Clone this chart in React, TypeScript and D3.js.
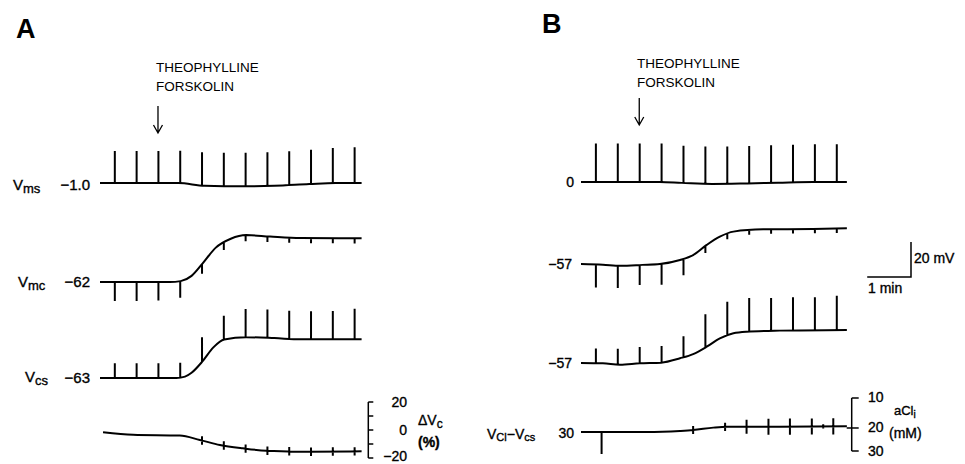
import React from 'react';
import * as d3 from 'd3';

type Pt = [number, number];

// test pulses, minutes from start of record (same protocol in A and B)
const pulseTimes = [0.34, 0.84, 1.34, 1.84, 2.34, 2.84, 3.34, 3.84, 4.34, 4.84, 5.34, 5.84];
const drugTime = 1.33;

// ---- panel A, mV ----
const aVmsBase: Pt[] = [[0, -1], [1.8, -1], [2.4, -2.6], [3.3, -2.9], [4.0, -2.6], [4.8, -1.6], [5.4, -1], [6, -1]];
const aVmsPulse = [18.3, 18.3, 18.3, 18.5, 19, 19, 19.2, 19.2, 19.3, 19.5, 20, 20.5];

const aVmcBase: Pt[] = [[0, -62], [1.6, -62], [1.85, -61.5], [2.1, -58.5], [2.35, -51.5], [2.65, -42.5], [3.0, -37.3], [3.35, -35.2], [3.9, -36], [4.6, -36.8], [6, -37]];
const aVmcPulse = [-10.8, -10.8, -10.6, -9.5, -5.5, -4, -3.4, -3.2, -3, -3, -3, -3];

const aVcsBase: Pt[] = [[0, -63], [1.75, -63], [1.95, -62.2], [2.1, -60], [2.35, -53.5], [2.6, -45.5], [2.85, -41], [3.35, -39.7], [4.0, -40.2], [4.6, -40.9], [6, -40.9]];
const aVcsPulse = [8.4, 8.4, 8.4, 8.4, 14, 13.8, 16.2, 16.2, 16, 16, 16.2, 17.5];

// ΔVc in %
const aDvcBase: Pt[] = [[0.07, -1.6], [0.76, -3.4], [1.83, -4], [2.29, -7.1], [2.75, -10.7], [3.28, -13.1], [3.82, -14.8], [4.82, -15.5], [6, -15.2]];
const aDvcMark = [0, 0, 0, 0, 3, 3, 3, 3, 3, 3, 3, 3];
const dvcTicks = [-20, -10, 0, 10, 20];
const dvcLabels = [20, 0, -20];

// ---- panel B, mV ----
const bVmsBase: Pt[] = [[0, 0], [1.8, 0], [2.3, -0.5], [3.0, -1.1], [3.8, -0.8], [4.5, -0.4], [5.3, 0], [6.07, 0]];
const bVmsPulse = [22, 22, 22, 22, 21.3, 21.3, 21.2, 21.4, 21.5, 21.5, 21.6, 21.6];

const bVmcBase: Pt[] = [[0, -57], [0.5, -57.4], [0.9, -58], [1.4, -57.5], [1.8, -57], [2.26, -54.7], [2.56, -51.9], [2.87, -46.1], [3.17, -41.4], [3.48, -38.5], [4.16, -37.2], [5.3, -37], [6.07, -36.6]];
const bVmcPulse = [-13.2, -12.8, -11.5, -12, -9.5, -4, -3, -2.5, -2.5, -2.5, -2.5, -2.5];

const bVcsBase: Pt[] = [[0, -57], [0.5, -57.2], [0.89, -58], [1.34, -57.2], [1.83, -56.8], [2.26, -54.3], [2.56, -51.9], [2.87, -47.7], [3.17, -42.9], [3.48, -40], [3.78, -39.1], [4.54, -38.5], [6.07, -38.1]];
const bVcsPulse = [8.4, 9, 9.3, 9.5, 12, 18.9, 19.3, 19.2, 18.8, 19, 18.8, 19.6];

const bVclBase: Pt[] = [[0, 30], [1.5, 30], [2.26, 30.6], [2.56, 31.1], [3.02, 32.5], [3.33, 33], [4.54, 33], [6.07, 33.3]];
const bVclSpikeTimes = [0.47];
const bVclSpikeAmp = [-12.6];
const bVclMarkTimes = [2.56, 3.29, 3.78, 4.28, 4.77, 5.27, 5.53, 5.76];
const bVclMarkSize = [2.3, 2.3, 4, 4.6, 4.6, 4.6, 1.2, 4.6];
const aclTicks = [10, 20, 30];

// scales
const xA = d3.scaleLinear().domain([0, 6]).range([100, 361.6]);
const xB = d3.scaleLinear().domain([0, 6]).range([581, 843.8]);
// 20 mV = 35 px
const mv = (ref: number, yRef: number) => d3.scaleLinear().domain([ref, ref + 20]).range([yRef, yRef - 35]);
const yDvc = d3.scaleLinear().domain([-20, 20]).range([458, 402]);
const yAcl = d3.scaleSqrt().domain([10, 30]).range([398, 451]);

const FONT = '"Liberation Sans", Arial, sans-serif';

type TraceProps = {
  x: d3.ScaleLinear<number, number>;
  y: d3.ScaleLinear<number, number>;
  base: Pt[];
  spikeT?: number[];
  spikeA?: number[];
  markT?: number[];
  markH?: number[];
};

function Trace({ x, y, base, spikeT = [], spikeA = [], markT = [], markH = [] }: TraceProps) {
  const line = d3.line<Pt>().x(d => x(d[0])).y(d => y(d[1])).curve(d3.curveMonotoneX);
  const at = d3.scaleLinear().domain(base.map(d => d[0])).range(base.map(d => d[1]));
  let extra = '';
  spikeT.forEach((t, i) => {
    if (!spikeA[i]) return;
    const v = at(t);
    extra += `M${x(t)},${y(v)}L${x(t)},${y(v + spikeA[i])}`;
  });
  markT.forEach((t, i) => {
    if (!markH[i]) return;
    const v = at(t);
    extra += `M${x(t)},${y(v + markH[i])}L${x(t)},${y(v - markH[i])}`;
  });
  return <path d={(line(base) || '') + extra} fill="none" stroke="#000" strokeWidth={2} strokeLinejoin="round" />;
}

function Arrow({ x, y0, y1 }: { x: number; y0: number; y1: number }) {
  return (
    <path d={`M${x},${y0}L${x},${y1}M${x - 4.5},${y1 - 8}L${x},${y1}L${x + 4.5},${y1 - 8}`} fill="none" stroke="#000" strokeWidth={1.3} />
  );
}

export default function App() {
  const aVms = mv(-1, 183), aVmc = mv(-62, 282), aVcs = mv(-63, 378);
  const bVms = mv(0, 182), bVmc = mv(-57, 264), bVcs = mv(-57, 363), bVcl = mv(30, 432);
  const dvcX = 368.3;
  const aclX = 851.7;
  // labels are printed a touch heavier than the regular face
  const lab = { stroke: '#000', strokeWidth: 0.35 };

  return (
    <svg width={965} height={464} style={{ position: 'absolute', left: 0, top: 0, background: '#fff' }} fontFamily={FONT} fill="#000">
      {/* panel letters */}
      <text x={16} y={38} fontSize={27} fontWeight="bold">A</text>
      <text x={542} y={33} fontSize={27} fontWeight="bold">B</text>

      {/* drug annotation */}
      <text x={156} y={72} fontSize={13.5}>THEOPHYLLINE</text>
      <text x={156} y={91} fontSize={13.5}>FORSKOLIN</text>
      <Arrow x={xA(drugTime)} y0={106} y1={133} />
      <text x={637} y={68} fontSize={13.5}>THEOPHYLLINE</text>
      <text x={637} y={87} fontSize={13.5}>FORSKOLIN</text>
      <Arrow x={xB(drugTime)} y0={98} y1={125} />

      {/* panel A traces */}
      <Trace x={xA} y={aVms} base={aVmsBase} spikeT={pulseTimes} spikeA={aVmsPulse} />
      <Trace x={xA} y={aVmc} base={aVmcBase} spikeT={pulseTimes} spikeA={aVmcPulse} />
      <Trace x={xA} y={aVcs} base={aVcsBase} spikeT={pulseTimes} spikeA={aVcsPulse} />
      <Trace x={xA} y={yDvc} base={aDvcBase} markT={pulseTimes} markH={aDvcMark} />

      <g {...lab}>
        <text x={13} y={190} fontSize={15}>V<tspan fontSize={13} dy={3}>ms</tspan></text>
        <text x={90} y={190} fontSize={15} textAnchor="end">−1.0</text>
        <text x={18} y={287} fontSize={15}>V<tspan fontSize={13} dy={3}>mc</tspan></text>
        <text x={90} y={287} fontSize={15} textAnchor="end">−62</text>
        <text x={25} y={382} fontSize={15}>V<tspan fontSize={13} dy={3}>cs</tspan></text>
        <text x={90} y={383} fontSize={15} textAnchor="end">−63</text>
      </g>

      {/* ΔVc scale */}
      <line x1={dvcX} x2={dvcX} y1={yDvc(20)} y2={yDvc(-20)} stroke="#000" strokeWidth={1.5} />
      {dvcTicks.map(t => (
        <line key={t} x1={dvcX} x2={dvcX + 5} y1={yDvc(t)} y2={yDvc(t)} stroke="#000" strokeWidth={1.5} />
      ))}
      <g {...lab}>
        {dvcLabels.map(t => (
          <text key={t} x={407} y={yDvc(t) + (t < 0 ? 3 : 5)} fontSize={14} textAnchor="end">{t < 0 ? `−${-t}` : t}</text>
        ))}
        <text x={418} y={425} fontSize={14}>ΔV<tspan fontSize={12} dy={3}>c</tspan></text>
        <text x={418} y={447} fontSize={14} fontWeight="bold">(%)</text>
      </g>

      {/* panel B traces */}
      <Trace x={xB} y={bVms} base={bVmsBase} spikeT={pulseTimes} spikeA={bVmsPulse} />
      <Trace x={xB} y={bVmc} base={bVmcBase} spikeT={pulseTimes} spikeA={bVmcPulse} />
      <Trace x={xB} y={bVcs} base={bVcsBase} spikeT={pulseTimes} spikeA={bVcsPulse} />
      <Trace x={xB} y={bVcl} base={bVclBase} spikeT={bVclSpikeTimes} spikeA={bVclSpikeAmp} markT={bVclMarkTimes} markH={bVclMarkSize} />

      <g {...lab}>
        <text x={574} y={187} fontSize={14} textAnchor="end">0</text>
        <text x={572} y={269} fontSize={14} textAnchor="end">−57</text>
        <text x={572} y={368} fontSize={14} textAnchor="end">−57</text>
        <text x={487} y={439} fontSize={14}>V<tspan fontSize={11} dy={2}>Cl</tspan><tspan dy={-2}>−V</tspan><tspan fontSize={11} dy={2}>cs</tspan></text>
        <text x={574} y={438} fontSize={14} textAnchor="end">30</text>
      </g>

      {/* 20 mV / 1 min bar */}
      <path d={`M911,${bVmc(-57) - 22}L911,${bVmc(-57) - 22 + 35}L${911 - 43.8},${bVmc(-57) - 22 + 35}`} fill="none" stroke="#000" strokeWidth={1.5} />
      <g {...lab}>
        <text x={914} y={263} fontSize={14}>20 mV</text>
        <text x={868} y={293} fontSize={14}>1 min</text>
      </g>

      {/* aCl scale */}
      <line x1={aclX} x2={aclX} y1={yAcl(10)} y2={yAcl(30)} stroke="#000" strokeWidth={1.5} />
      {aclTicks.map(t => (
        <line key={t} x1={t === 20 ? aclX - 5 : aclX} x2={aclX + 7} y1={yAcl(t)} y2={yAcl(t)} stroke="#000" strokeWidth={1.5} />
      ))}
      <g {...lab}>
        {aclTicks.map(t => (
          <text key={t} x={868} y={yAcl(t) + 4 + (t === 30 ? 1 : 0)} fontSize={14}>{t}</text>
        ))}
        <text x={894} y={415} fontSize={13}>aCl<tspan fontSize={10} dy={3}>i</tspan></text>
        <text x={889} y={438} fontSize={14}>(mM)</text>
      </g>
    </svg>
  );
}
